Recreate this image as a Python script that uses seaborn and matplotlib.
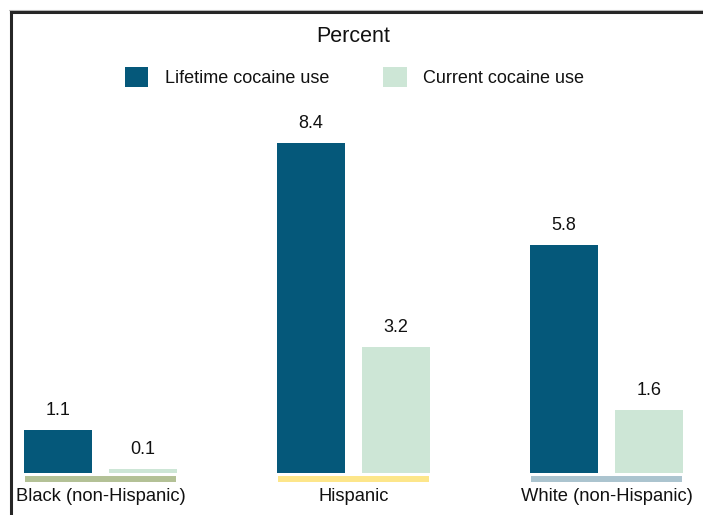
import matplotlib
matplotlib.use("Agg")
import matplotlib.pyplot as plt
from matplotlib.patches import Patch
from matplotlib.lines import Line2D
import seaborn as sns
import pandas as pd

groups = ["Black (non-Hispanic)", "Hispanic", "White (non-Hispanic)"]
series = ["Lifetime cocaine use", "Current cocaine use"]
lifetime = [1.1, 8.4, 5.8]
current = [0.1, 3.2, 1.6]
bar_colors = ["#05587a", "#cde6d6"]
strip_colors = ["#b3c196", "#fde68a", "#abc4cf"]

df = pd.DataFrame({
    "group": groups * 2,
    "series": [series[0]] * 3 + [series[1]] * 3,
    "value": lifetime + current,
})

sns.set_theme(style="white")
plt.rcParams["font.family"] = ["Liberation Sans", "DejaVu Sans"]

W, H = 703, 515
fig = plt.figure(figsize=(W / 100, H / 100), dpi=100)
ax = fig.add_axes([0, 0, 1, 1])
ax.set_facecolor("none")

sns.barplot(data=df, x="group", y="value", hue="series", order=groups,
            hue_order=series, palette=bar_colors, width=0.672, gap=0.2,
            legend=False, ax=ax, saturation=1, linewidth=0)

px_per_unit = 39.3
base_px = 42
ax.set_xlim(-100.5 / 253, (W - 100.5) / 253)
ax.set_ylim(-base_px / px_per_unit, (H - base_px) / px_per_unit)
ax.axis("off")

for cont in ax.containers:
    ax.bar_label(cont, fmt="%.1f", padding=8, fontsize=13, color="#111111")

# colored strips under each group
for i, c in enumerate(strip_colors):
    ax.hlines(-0.14, i - 0.2985, i + 0.2985, colors=c, linewidth=4.3)
    ax.text(i, -0.59, groups[i], ha="center", va="center", fontsize=13.2,
            color="#111111")

# title & legend
fig.text(353 / W, 1 - 36 / H, "Percent", ha="center", va="center",
         fontsize=15.5, color="#111111")
handles = [Patch(facecolor=c, edgecolor="none") for c in bar_colors]
fig.legend(handles, series, loc="center", bbox_to_anchor=(354.5 / W, 1 - 77 / H),
           ncol=2, frameon=False, fontsize=13, handlelength=1.3,
           handleheight=1.3, handletextpad=0.9, columnspacing=3.0,
           labelcolor="#111111")

# frame lines (top and left)
fig.add_artist(Line2D([9 / W, 1], [1 - 9.5 / H, 1 - 9.5 / H], color="#bbbbbb",
                      linewidth=0.8, transform=fig.transFigure))
fig.add_artist(Line2D([11.5 / W, 1], [1 - 11.5 / H, 1 - 11.5 / H], color="#262626",
                      linewidth=2.2, solid_capstyle="projecting",
                      transform=fig.transFigure))
fig.add_artist(Line2D([11.5 / W, 11.5 / W], [1 - 11.5 / H, 0], color="#262626",
                      linewidth=2.2, solid_capstyle="projecting",
                      transform=fig.transFigure))

fig.savefig("out.png", dpi=100)
